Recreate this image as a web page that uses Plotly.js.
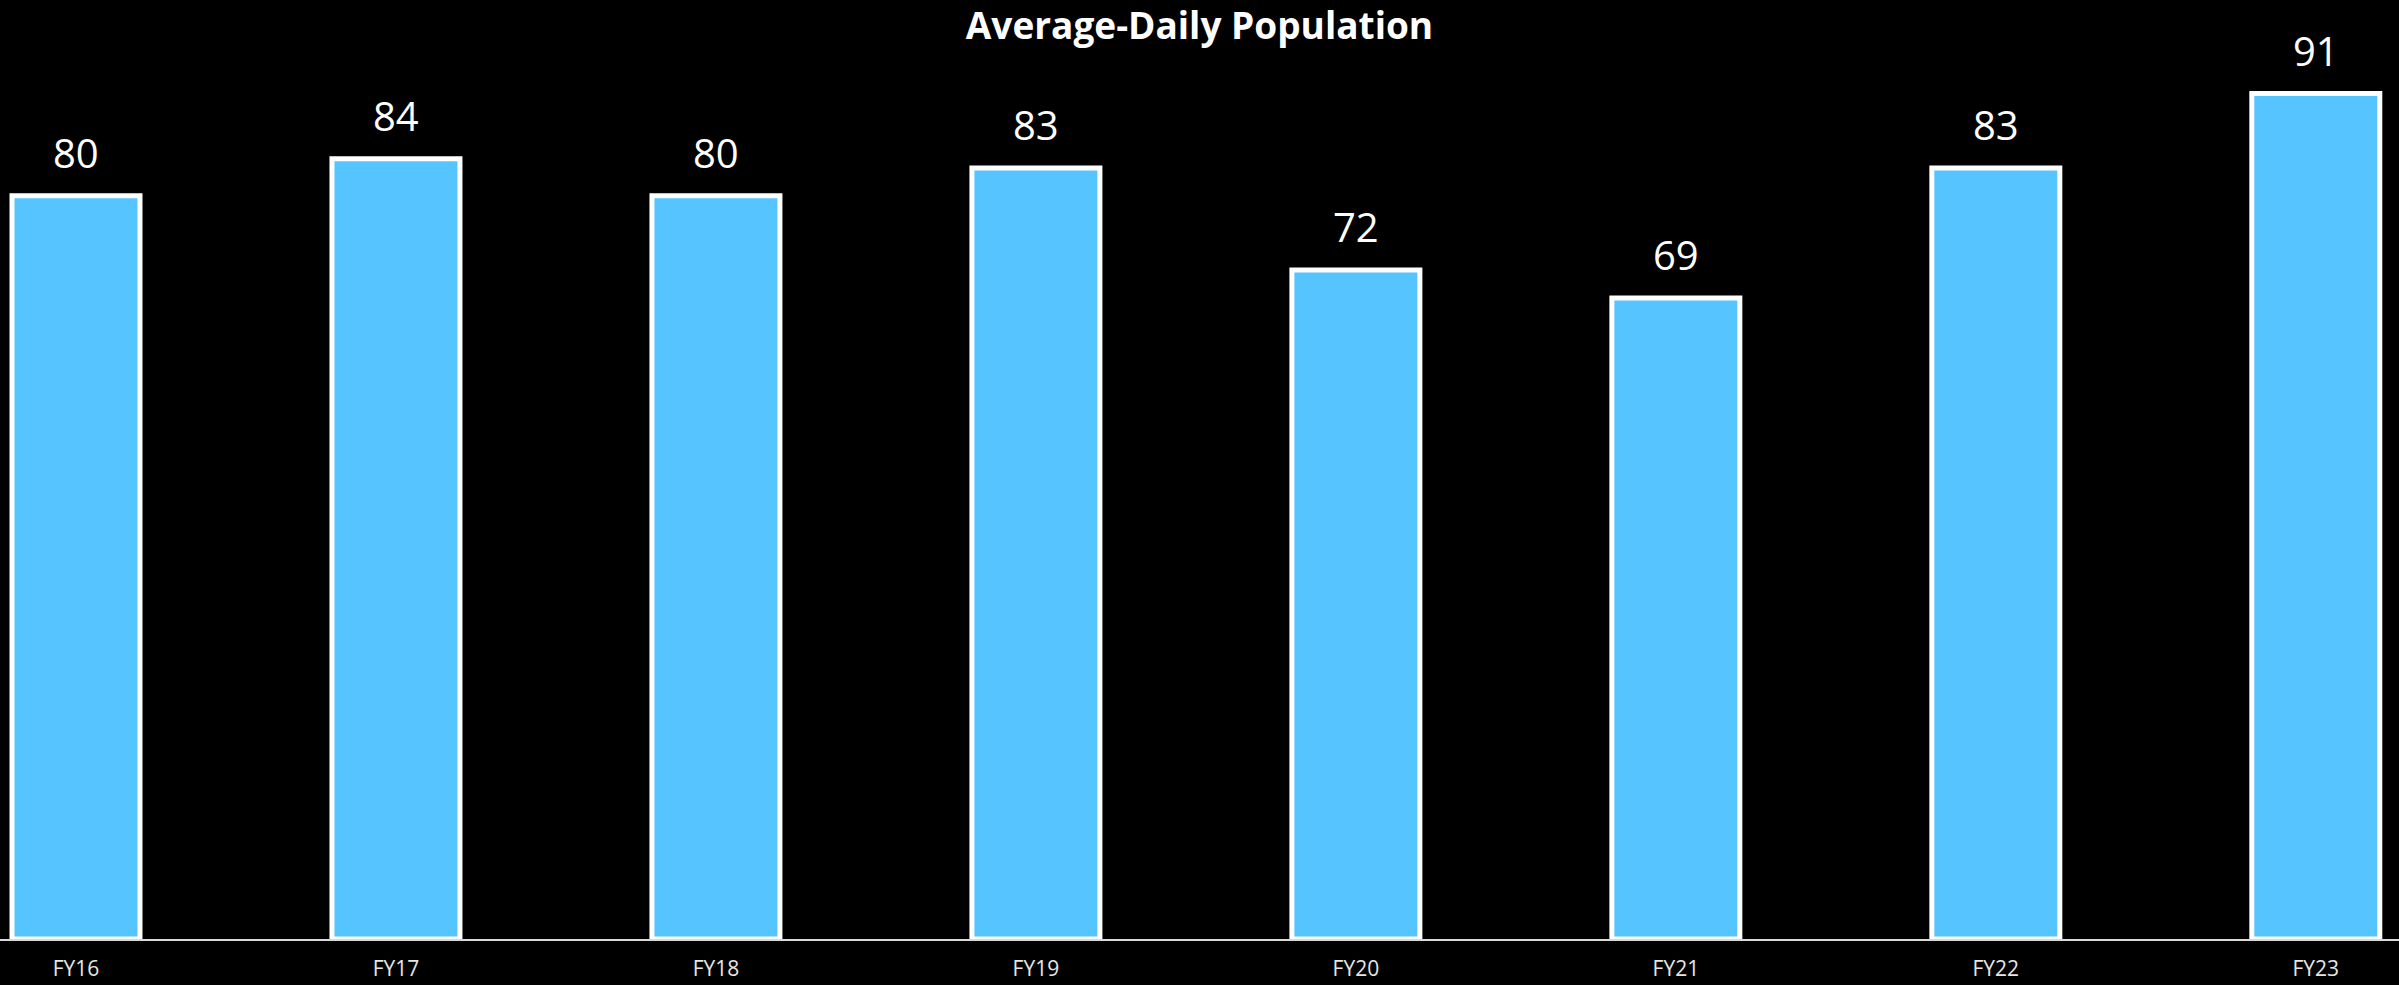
<!DOCTYPE html>
<html>
<head>
<meta charset="utf-8">
<script src="https://cdn.plot.ly/plotly-3.0.1.min.js"></script>
<style>html,body{margin:0;padding:0;background:#000;}#chart{width:2399px;height:985px;}</style>
</head>
<body>
<div id="chart"></div>
<script>
const categories = ["FY16","FY17","FY18","FY19","FY20","FY21","FY22","FY23"];
const values = [80, 84, 80, 83, 72, 69, 83, 91];
const chartTitle = "Average-Daily Population";

const trace = {
  type: "bar",
  x: categories,
  y: values,
  width: 0.4,
  marker: { color: "#56C4FF", line: { color: "#FFFFFF", width: 5 } },
  hoverinfo: "none"
};

const annotations = categories.map((c, i) => ({
  x: c, y: values[i], xref: "x", yref: "y",
  text: String(values[i]),
  showarrow: false,
  yanchor: "bottom",
  yshift: 14,
  font: { family: "Open Sans, sans-serif", size: 40, color: "#FFFFFF" }
}));

const layout = {
  width: 2399, height: 985,
  paper_bgcolor: "#000000", plot_bgcolor: "#000000",
  margin: { l: 0, r: 0, t: 10, b: 46 },
  title: {
    text: chartTitle,
    x: 0.5, xanchor: "center",
    y: 1 - 26/985, yanchor: "middle", yref: "container",
    font: { family: "Open Sans, sans-serif", size: 37, color: "#FFFFFF", weight: "bold" }
  },
  xaxis: {
    type: "category",
    range: [-0.2375, 7.26],
    showgrid: false, zeroline: false,
    showline: true, linecolor: "#D9D9D9", linewidth: 2,
    ticks: "",
    ticklabelstandoff: 10,
    tickfont: { family: "Open Sans, sans-serif", size: 21, color: "#E6E6E6" }
  },
  yaxis: {
    range: [0, 100],
    visible: false, showgrid: false, zeroline: false
  },
  annotations: annotations,
  showlegend: false
};

Plotly.newPlot("chart", [trace], layout, { displayModeBar: false, staticPlot: true });
</script>
</body>
</html>
